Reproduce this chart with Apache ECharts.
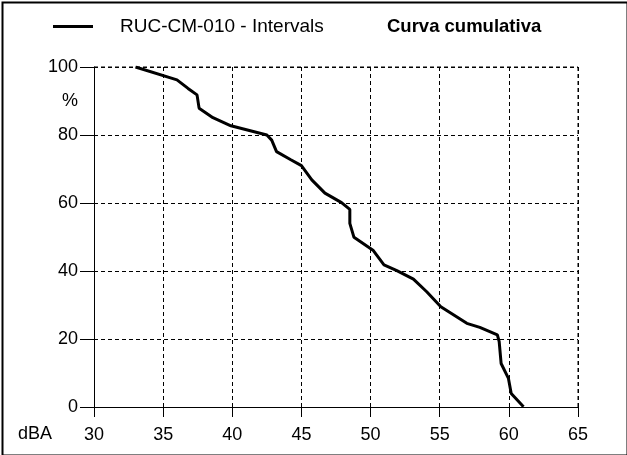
<!DOCTYPE html>
<html>
<head>
<meta charset="utf-8">
<script src="https://cdn.jsdelivr.net/npm/echarts@6/dist/echarts.min.js"></script>
<style>
  html, body { margin: 0; padding: 0; background: #fff; }
  #chart { width: 627px; height: 455px; }
</style>
</head>
<body>
<div id="chart"></div>
<script>
var seriesName = 'RUC-CM-010 - Intervals';
var titleText = 'Curva cumulativa';
// dBA level / cumulative percent
var levels = [33.0, 36.0, 36.8, 37.45, 37.6, 38.6, 39.9, 42.5, 42.85, 43.2, 44.2, 45.0, 45.75, 46.7, 47.9, 48.5, 48.5, 48.8, 50.2, 50.97, 51.9, 53.1, 54.06, 55.08, 56.96, 57.9, 59.17, 59.3, 59.44, 59.97, 60.17, 61.06];
var percents = [100, 96.2, 93.7, 91.8, 87.9, 85.1, 82.7, 80, 78.5, 75.1, 72.8, 71, 66.8, 62.9, 60.1, 58.1, 54, 49.9, 46, 41.8, 40.1, 37.6, 33.9, 29.5, 24.6, 23.4, 21.2, 19.2, 12.8, 8.4, 4.0, 0.1];

var points = levels.map(function (x, i) { return [x, percents[i]]; });

var font = 'Arial, "Liberation Sans", sans-serif';
var myChart = echarts.init(document.getElementById('chart'));

var option = {
  backgroundColor: '#fff',
  animation: false,
  title: {
    text: titleText,
    left: 382,
    top: 12,
    textStyle: { fontFamily: font, fontSize: 18.5, fontWeight: 'bold', color: '#000' }
  },
  legend: {
    left: 48,
    top: 12,
    itemWidth: 40,
    itemHeight: 3,
    icon: 'rect',
    textStyle: { fontFamily: font, fontSize: 19, color: '#000', padding: [0, 0, 0, 22] },
    data: [seriesName]
  },
  grid: { left: 94, right: 49, top: 67, bottom: 48 },
  xAxis: {
    type: 'value',
    min: 30,
    max: 65,
    interval: 5,
    axisLine: { lineStyle: { color: '#000', width: 1 } },
    axisTick: { show: true, length: 10, lineStyle: { color: '#000' } },
    axisLabel: { fontFamily: font, fontSize: 18, color: '#000', margin: 19 },
    splitLine: { show: true, lineStyle: { color: '#000', type: [4, 3], width: 1 } }
  },
  yAxis: {
    type: 'value',
    min: 0,
    max: 100,
    interval: 20,
    axisLine: { show: true, lineStyle: { color: '#000', width: 1 } },
    axisTick: { show: true, length: 14, lineStyle: { color: '#000' } },
    axisLabel: { fontFamily: font, fontSize: 18, color: '#000', margin: 16 },
    splitLine: { show: true, lineStyle: { color: '#000', type: [4, 3], width: 1 } }
  },
  graphic: [
    { type: 'rect', left: 0, top: 0, shape: { x: 1, y: 1, width: 625, height: 453 },
      style: { fill: 'none', stroke: '#000', lineWidth: 2 }, silent: true },
    { type: 'line', shape: { x1: 94, y1: 67, x2: 578, y2: 67 },
      style: { stroke: '#000', lineWidth: 1, lineDash: [4, 3] }, silent: true },
    { type: 'line', shape: { x1: 578, y1: 67, x2: 578, y2: 407 },
      style: { stroke: '#000', lineWidth: 1, lineDash: [4, 3] }, silent: true },
    { type: 'text', x: 78, y: 101,
      style: { text: '%', fontFamily: font, fontSize: 18, fill: '#000', align: 'right', verticalAlign: 'middle' } },
    { type: 'text', x: 18, y: 434,
      style: { text: 'dBA', fontFamily: font, fontSize: 18, fill: '#000', align: 'left', verticalAlign: 'middle' } }
  ],
  series: [{
    name: seriesName,
    type: 'line',
    data: points,
    showSymbol: false,
    symbol: 'none',
    lineStyle: { color: '#000', width: 3 },
    itemStyle: { color: '#000' }
  }]
};

myChart.setOption(option);
</script>
</body>
</html>
